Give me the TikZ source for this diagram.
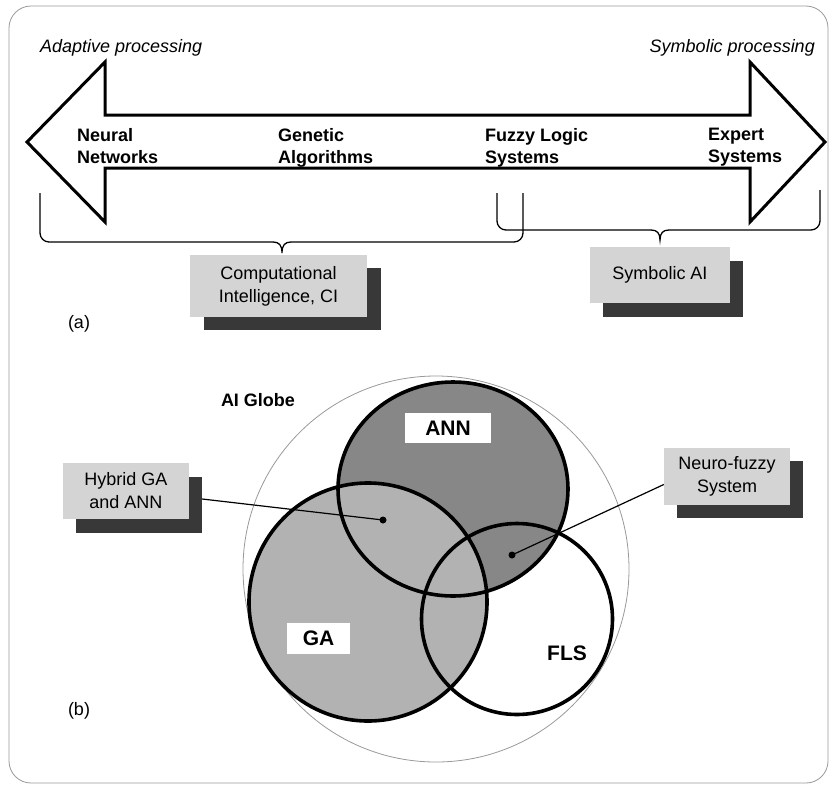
\documentclass[tikz,border=0pt]{standalone}
\usepackage{fontspec}
\setmainfont{Liberation Sans}
\usetikzlibrary{shapes.geometric}
\begin{document}
\begin{tikzpicture}[x=1pt,y=-1pt,
  lbl/.style={font=\fontsize{18}{22}\selectfont, inner sep=0},
  bl/.style={font=\fontsize{18}{22}\selectfont\bfseries, align=left, inner sep=0, anchor=north west},
  lightbox/.style={fill=black!17, inner sep=0, align=center, font=\fontsize{18}{23}\selectfont},
  shadowbox/.style={fill=black!78, inner sep=0},
  brace/.style={line width=1.3pt},
  setline/.style={circle, draw, line width=3.6pt, inner sep=0},
  tag/.style={fill=white, inner sep=0, font=\fontsize{21}{24}\selectfont\bfseries},
  dot/.style={circle, fill, inner sep=0, minimum size=7pt},
  conn/.style={line width=1.2pt}
]
\useasboundingbox (0,0) rectangle (830,785);
\draw[black!40, line width=0.8pt, rounded corners=22pt] (9,6) rectangle (828,783);

% ---------- part (a) ----------
\draw[line width=3pt, line join=miter] (27,142) -- (105,62) -- (105,115) -- (750,115) -- (750,62)
  -- (825,142) -- (750,222) -- (750,168) -- (105,168) -- (105,222) -- cycle;

\node[lbl, font=\fontsize{18}{22}\selectfont\itshape, anchor=base west] (ap) at (40,52) {Adaptive processing};
\node[lbl, font=\fontsize{18}{22}\selectfont\itshape, anchor=base east] (sp) at (815,52) {Symbolic processing};

\node[bl] (nn) at (77,128) {Neural\\Networks};
\node[bl] (gen) at (278,128) {Genetic\\Algorithms};
\node[bl] (fls1) at (485,128) {Fuzzy Logic\\Systems};
\node[bl] (es) at (708,128) {Expert\\Systems};

% left brace (CI)
\draw[brace, rounded corners=9pt] (40,193) -- (40,242) -- (273,242);
\draw[brace] (273,242) .. controls (279,242) and (282,245) .. (282,253)
  .. controls (282,245) and (285,242) .. (291,242);
\draw[brace, rounded corners=9pt] (291,242) -- (523,242) -- (523,193);
% right brace (Symbolic AI)
\draw[brace, rounded corners=9pt] (497,193) -- (497,230) -- (651,230);
\draw[brace] (651,230) .. controls (657,230) and (660,233) .. (660,240)
  .. controls (660,233) and (663,230) .. (669,230);
\draw[brace, rounded corners=9pt] (669,230) -- (820,230) -- (820,190);

\node[shadowbox, minimum width=177pt, minimum height=62pt] (cis) at (292.5,299) {};
\node[lightbox, minimum width=177pt, minimum height=62pt] (ci) at (278.5,286) {Computational\\Intelligence, CI};
\node[shadowbox, minimum width=140pt, minimum height=56pt] (sais) at (673,289) {};
\node[lightbox, minimum width=140pt, minimum height=56pt] (sai) at (660,275) {Symbolic AI};

\node[lbl] (la) at (79,324) {(a)};

% ---------- part (b) ----------
\fill[black!47] (453,489) ellipse [x radius=115pt, y radius=107pt];
\fill[black!30] (368,602) circle (119pt);
\node[circle, draw=black!40, line width=0.8pt, minimum size=386pt, inner sep=0] (globe) at (436,569) {};
\node[ellipse, draw, line width=3.6pt, inner sep=0, minimum width=230pt, minimum height=214pt] (ann) at (453,489) {};
\node[setline, minimum size=238pt] (ga) at (368,602) {};
\node[setline, minimum size=191pt] (fls) at (517,619) {};

\node[tag, minimum width=86pt, minimum height=30pt] (annl) at (448,428) {ANN};
\node[tag, minimum width=63pt, minimum height=31pt] (gal) at (318.5,638.5) {GA};
\node[tag, fill=none] (flsl) at (567,653) {FLS};
\node[lbl, font=\fontsize{18}{22}\selectfont\bfseries] (aig) at (258,400) {AI Globe};

\node[dot] (d1) at (383,520) {};
\node[dot] (d2) at (512,555) {};

\node[shadowbox, minimum width=126pt, minimum height=56pt] (hybs) at (139,505) {};
\node[lightbox, minimum width=126pt, minimum height=56pt] (hyb) at (126,491) {Hybrid GA\\and ANN};
\node[shadowbox, minimum width=126pt, minimum height=57pt] (nfs) at (740,489.5) {};
\node[lightbox, minimum width=126pt, minimum height=57pt] (nf) at (727,476.5) {Neuro-fuzzy\\System};

\draw[conn] ([yshift=6pt]hybs.east) -- (d1.center);
\draw[conn] ([yshift=-8pt]nf.west) -- (d2.center);

\node[lbl] (lb) at (79,711) {(b)};
\end{tikzpicture}
\end{document}
